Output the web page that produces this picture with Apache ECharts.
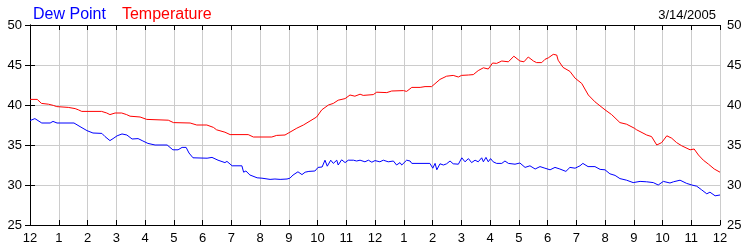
<!DOCTYPE html>
<html>
<head>
<meta charset="utf-8">
<script src="https://cdn.jsdelivr.net/npm/echarts@6/dist/echarts.min.js"></script>
<style>html,body{margin:0;padding:0;background:#fff}#chart{width:750px;height:250px}</style>
</head>
<body>
<div id="chart"></div>
<script>
var xTickLabels = ['12','1','2','3','4','5','6','7','8','9','10','11','12','1','2','3','4','5','6','7','8','9','10','11','12'];
var yTickValues = [25, 30, 35, 40, 45, 50];
var dateLabel = '3/14/2005';

var tempHours = [0,0.25,0.4,0.64,0.81,0.93,1.33,1.57,1.68,1.8,2.49,2.67,2.78,2.96,3.19,3.36,3.48,3.83,4.06,4.81,4.99,5.57,5.8,6.15,6.2,6.38,6.49,6.78,6.96,7.59,7.77,8.41,8.58,8.87,9.04,9.28,9.51,9.74,9.97,10.15,10.38,10.55,10.72,10.96,11.13,11.3,11.48,11.59,11.94,12.06,12.41,12.58,12.99,13.1,13.28,13.57,13.74,13.97,14.26,14.49,14.72,14.9,15.01,15.25,15.42,15.59,15.77,15.94,16.09,16.23,16.41,16.64,16.83,17.04,17.18,17.33,17.51,17.62,17.8,17.91,18.03,18.2,18.32,18.37,18.54,18.78,18.96,19.19,19.42,19.65,20.0,20.23,20.52,20.75,21.02,21.1,21.45,21.62,21.8,21.97,22.15,22.32,22.49,22.67,22.96,23.1,23.25,23.42,23.6,23.8,24.0];
var tempValues = [40.7,40.7,40.2,40.1,39.95,39.8,39.7,39.55,39.4,39.2,39.2,39.0,38.8,39.0,39.0,38.8,38.6,38.5,38.2,38.1,37.8,37.75,37.5,37.5,37.25,37.2,36.9,36.6,36.3,36.3,36.0,36.0,36.2,36.25,36.6,37.1,37.5,38.0,38.5,39.4,40.0,40.2,40.6,40.8,41.25,41.1,41.35,41.2,41.3,41.6,41.55,41.75,41.8,41.7,42.2,42.2,42.3,42.3,43.2,43.6,43.7,43.5,43.7,43.75,43.8,44.3,44.65,44.5,45.25,45.2,45.5,45.4,46.1,45.5,45.4,46.0,45.5,45.3,45.3,45.7,45.9,46.33,46.25,45.6,44.7,44.2,43.35,42.7,41.25,40.4,39.4,38.8,37.8,37.6,37.1,36.9,36.25,36.05,35.0,35.3,36.15,35.85,35.3,34.9,34.4,34.5,33.75,33.1,32.6,32.0,31.6];

var dewHours = [0,0.17,0.41,0.70,0.80,0.94,1.53,1.74,1.98,2.19,2.50,2.61,2.78,2.89,3.03,3.20,3.37,3.55,3.76,3.90,4.10,4.35,4.77,4.97,5.15,5.29,5.43,5.53,5.67,6.16,6.33,6.54,6.78,6.85,7.03,7.37,7.43,7.51,7.65,7.90,8.07,8.35,8.52,8.70,8.94,9.04,9.15,9.32,9.46,9.57,9.70,9.91,10.02,10.16,10.26,10.34,10.46,10.55,10.67,10.72,10.84,10.96,11.07,11.25,11.36,11.48,11.65,11.77,11.89,12.00,12.17,12.29,12.46,12.64,12.75,12.87,12.93,13.10,13.22,13.28,13.91,14.01,14.09,14.15,14.26,14.38,14.49,14.61,14.72,14.90,15.02,15.13,15.25,15.36,15.48,15.59,15.71,15.77,15.86,15.94,16.02,16.11,16.23,16.41,16.52,16.64,16.87,17.04,17.22,17.39,17.57,17.74,17.91,18.09,18.26,18.43,18.64,18.78,18.96,19.13,19.23,19.41,19.65,19.83,20.00,20.17,20.35,20.52,20.75,20.98,21.22,21.45,21.68,21.85,22.03,22.26,22.38,22.61,22.84,23.02,23.19,23.36,23.54,23.65,23.83,24.00];
var dewValues = [38.05,38.3,37.75,37.75,37.95,37.75,37.75,37.3,36.8,36.5,36.45,36.05,35.55,35.8,36.15,36.38,36.25,35.75,35.8,35.55,35.2,35.0,35.0,34.4,34.4,34.7,34.7,34.0,33.4,33.35,33.45,33.1,32.8,32.95,32.4,32.4,31.6,31.75,31.25,30.9,30.85,30.7,30.75,30.7,30.75,30.85,31.25,31.65,31.3,31.6,31.7,31.75,32.2,32.25,33.1,32.35,33.1,32.7,33.1,32.5,33.15,32.8,33.1,33.1,33.0,33.1,32.9,33.1,32.85,33.05,32.9,33.1,32.9,33.0,32.5,32.8,32.5,33.1,33.0,32.7,32.7,32.1,32.7,31.9,32.65,32.5,32.65,33.0,32.65,32.6,33.4,32.9,33.3,32.8,33.1,32.9,33.4,32.9,33.45,32.9,33.3,32.9,32.7,32.7,33.0,32.7,32.6,32.75,32.2,32.4,32.0,32.3,32.1,31.9,32.2,32.0,31.7,32.2,32.1,32.4,32.7,32.3,32.3,31.95,31.9,31.4,31.2,30.8,30.6,30.3,30.45,30.4,30.3,30.0,30.45,30.25,30.4,30.6,30.2,30.0,29.85,29.4,28.9,29.1,28.65,28.75];

function pairs(xs, ys) { return xs.map(function (x, i) { return [x, ys[i]]; }); }

var chart = echarts.init(document.getElementById('chart'), null, { renderer: 'canvas' });
var font = 'Liberation Sans, Arial, sans-serif';
var tickStyle = { show: true, inside: true, length: 5, lineStyle: { color: '#000', width: 1 } };
var lineStyle = { show: true, lineStyle: { color: '#000', width: 1 } };
var yMin = yTickValues[0], yMax = yTickValues[yTickValues.length - 1];

chart.setOption({
  animation: false,
  backgroundColor: '#fff',
  title: {
    text: dateLabel, right: 29, top: 4,
    textStyle: { fontFamily: font, fontSize: 13, fontWeight: 'normal', color: '#000' }
  },
  legend: {
    left: 23, top: 2, icon: 'none', itemWidth: 0, itemGap: 11,
    data: [
      { name: 'Dew Point', textStyle: { color: '#0000ff' } },
      { name: 'Temperature', textStyle: { color: '#ff0000' } }
    ],
    textStyle: { fontFamily: font, fontSize: 16 }
  },
  grid: { left: 30, right: 30, top: 25, bottom: 25, containLabel: false },
  xAxis: [
    {
      type: 'value', min: 0, max: 24, interval: 1, position: 'bottom',
      axisLine: lineStyle, axisTick: tickStyle,
      axisLabel: { fontFamily: font, fontSize: 13, color: '#000', margin: 7,
        formatter: function (v) { return xTickLabels[Math.round(v)]; } },
      splitLine: { show: true, lineStyle: { color: '#cccccc', width: 1 } }
    },
    {
      type: 'value', min: 0, max: 24, interval: 1, position: 'top',
      axisLine: lineStyle, axisTick: tickStyle, axisLabel: { show: false }, splitLine: { show: false }
    }
  ],
  yAxis: [
    {
      type: 'value', min: yMin, max: yMax, interval: 5, position: 'left',
      axisLine: lineStyle, axisTick: tickStyle,
      axisLabel: { fontFamily: font, fontSize: 13, color: '#000', margin: 8 },
      splitLine: { show: true, lineStyle: { color: '#cccccc', width: 1 } }
    },
    {
      type: 'value', min: yMin, max: yMax, interval: 5, position: 'right',
      axisLine: lineStyle, axisTick: tickStyle,
      axisLabel: { fontFamily: font, fontSize: 13, color: '#000', margin: 7 },
      splitLine: { show: false }
    }
  ],
  series: [
    { name: 'Dew Point', type: 'line', data: pairs(dewHours, dewValues), showSymbol: false, symbol: 'none',
      lineStyle: { color: '#0000ff', width: 1 }, itemStyle: { color: '#0000ff' }, z: 3 },
    { name: 'Temperature', type: 'line', data: pairs(tempHours, tempValues), showSymbol: false, symbol: 'none',
      lineStyle: { color: '#ff0000', width: 1 }, itemStyle: { color: '#ff0000' }, z: 3 }
  ]
});
</script>
</body>
</html>
